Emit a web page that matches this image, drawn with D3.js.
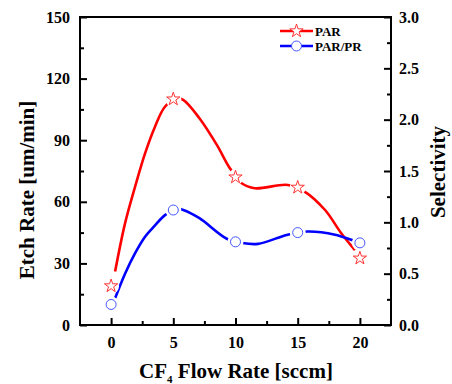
<!DOCTYPE html>
<html>
<head>
<meta charset="utf-8">
<script src="https://cdn.jsdelivr.net/npm/d3@7"></script>
<style>
body { margin: 0; background: #fff; }
text { font-family: "Liberation Serif", "Times New Roman", serif; font-weight: bold; }
</style>
</head>
<body>
<svg id="chart" width="452" height="384"></svg>
<script>
// measured points (markers)
var flow = [0, 5, 10, 15, 20];
var parRate = [19, 110, 72, 67, 32.5];
var parprSel = [0.20, 1.12, 0.81, 0.90, 0.80];

// smoothed curves as drawn in the figure
var parCurveX = [0.32, 1.12, 1.93, 2.73, 3.53, 4.33, 5.3, 5.8, 7.1, 8.5, 9.55, 10.5, 11.55, 14.2, 15.55, 17.2, 18.5, 19.6];
var parCurveY = [26, 49.5, 67.4, 83.6, 96.6, 106.3, 110.3, 109.6, 100.7, 87.7, 76.3, 69, 66.6, 68.2, 65, 56, 44.7, 36.5];
var parprCurveX = [0.32, 1.12, 1.93, 2.73, 3.53, 4.33, 5.3, 5.8, 7.1, 9.3, 10.5, 11.8, 14.2, 15.8, 18, 19.3, 20];
var parprCurveY = [0.26, 0.50, 0.70, 0.86, 0.97, 1.07, 1.13, 1.12, 1.04, 0.84, 0.80, 0.79, 0.88, 0.91, 0.88, 0.83, 0.80];

var xTicks = [0, 5, 10, 15, 20];
var leftTicks = [0, 30, 60, 90, 120, 150];
var rightTicks = [0, 0.5, 1.0, 1.5, 2.0, 2.5, 3.0];

var margin = { top: 17, right: 61, bottom: 59, left: 80 },
    width = 452 - margin.left - margin.right,
    height = 384 - margin.top - margin.bottom;

var svg = d3.select("#chart");
var g = svg.append("g").attr("transform", "translate(" + margin.left + "," + margin.top + ")");

var x = d3.scaleLinear().domain([-2.5, 22.5]).range([0, width]);
var yL = d3.scaleLinear().domain([0, 150]).range([height, 0]);
var yR = d3.scaleLinear().domain([0, 3]).range([height, 0]);

function styleAxis(a) {
  a.select(".domain").remove();
  a.selectAll("line").attr("stroke", "#000").attr("stroke-width", 2);
  a.selectAll("text").attr("font-size", 16).attr("fill", "#000");
}

// minor ticks
g.append("g").attr("transform", "translate(0," + height + ")")
  .call(d3.axisBottom(x).tickValues([2.5, 7.5, 12.5, 17.5]).tickSize(-4).tickFormat(""))
  .call(styleAxis);
g.append("g")
  .call(d3.axisLeft(yL).tickValues([15, 45, 75, 105, 135]).tickSize(-4).tickFormat(""))
  .call(styleAxis);
g.append("g").attr("transform", "translate(" + width + ",0)")
  .call(d3.axisRight(yR).tickValues([0.25, 0.75, 1.25, 1.75, 2.25, 2.75]).tickSize(-4).tickFormat(""))
  .call(styleAxis);

// major ticks
g.append("g").attr("transform", "translate(0," + height + ")")
  .call(d3.axisBottom(x).tickValues(xTicks).tickSize(-7).tickPadding(12).tickFormat(d3.format("d")))
  .call(styleAxis);
g.append("g")
  .call(d3.axisLeft(yL).tickValues(leftTicks).tickSize(-7).tickPadding(10).tickFormat(d3.format("d")))
  .call(styleAxis);
g.append("g").attr("transform", "translate(" + width + ",0)")
  .call(d3.axisRight(yR).tickValues(rightTicks).tickSize(-7).tickPadding(8).tickFormat(d3.format(".1f")))
  .call(styleAxis);

// frame
g.append("rect").attr("width", width).attr("height", height)
  .attr("fill", "none").attr("stroke", "#000").attr("stroke-width", 2);

// curves
var parLine = d3.line().curve(d3.curveCatmullRom)
  .x(function(d, i) { return x(parCurveX[i]); })
  .y(function(d) { return yL(d); });
var parprLine = d3.line().curve(d3.curveCatmullRom)
  .x(function(d, i) { return x(parprCurveX[i]); })
  .y(function(d) { return yR(d); });

g.append("path").datum(parCurveY).attr("d", parLine)
  .attr("fill", "none").attr("stroke", "#ff0000").attr("stroke-width", 2.6);
g.append("path").datum(parprCurveY).attr("d", parprLine)
  .attr("fill", "none").attr("stroke", "#0000ff").attr("stroke-width", 2.6);

// gaps around markers
var star = d3.symbol().type(d3.symbolStar).size(55);
g.selectAll("circle.gapPar").data(parRate).enter().append("circle")
  .attr("cx", function(d, i) { return x(flow[i]); })
  .attr("cy", function(d) { return yL(d); })
  .attr("r", 8).attr("fill", "#fff");
g.selectAll("circle.gapPr").data(parprSel).enter().append("circle")
  .attr("cx", function(d, i) { return x(flow[i]); })
  .attr("cy", function(d) { return yR(d); })
  .attr("r", 8).attr("fill", "#fff");

// markers
g.selectAll("path.star").data(parRate).enter().append("path")
  .attr("d", star)
  .attr("transform", function(d, i) { return "translate(" + x(flow[i]) + "," + yL(d) + ")"; })
  .attr("fill", "#fff").attr("stroke", "#ff3333").attr("stroke-width", 1);
g.selectAll("circle.pt").data(parprSel).enter().append("circle")
  .attr("cx", function(d, i) { return x(flow[i]); })
  .attr("cy", function(d) { return yR(d); })
  .attr("r", 5).attr("fill", "#fff").attr("stroke", "#4455ff").attr("stroke-width", 1);

// legend
var leg = svg.append("g");
var legItems = [
  { name: "PAR", color: "#ff0000", mk: "#ff3333", y: 31, star: true },
  { name: "PAR/PR", color: "#0000ff", mk: "#4455ff", y: 46, star: false }
];
legItems.forEach(function(it) {
  leg.append("line").attr("x1", 280).attr("x2", 313).attr("y1", it.y).attr("y2", it.y)
    .attr("stroke", it.color).attr("stroke-width", 2.6);
  if (it.star) {
    leg.append("path").attr("d", star).attr("transform", "translate(296.5," + it.y + ")")
      .attr("fill", "#fff").attr("stroke", it.mk);
  } else {
    leg.append("circle").attr("cx", 296.5).attr("cy", it.y).attr("r", 5)
      .attr("fill", "#fff").attr("stroke", it.mk);
  }
  leg.append("text").attr("x", 315).attr("y", it.y + 4.5).attr("font-size", 13).text(it.name);
});

// axis titles
svg.append("text").attr("transform", "translate(34,190) rotate(-90)")
  .attr("text-anchor", "middle").attr("font-size", 21).text("Etch Rate [um/min]");
svg.append("text").attr("transform", "translate(445,172) rotate(-90)")
  .attr("text-anchor", "middle").attr("font-size", 21).text("Selectivity");
var xt = svg.append("text").attr("x", 236).attr("y", 378)
  .attr("text-anchor", "middle").attr("font-size", 21);
xt.append("tspan").text("CF");
xt.append("tspan").attr("font-size", 11).attr("dy", 5).text("4");
xt.append("tspan").attr("dy", -5).text(" Flow Rate [sccm]");
</script>
</body>
</html>
